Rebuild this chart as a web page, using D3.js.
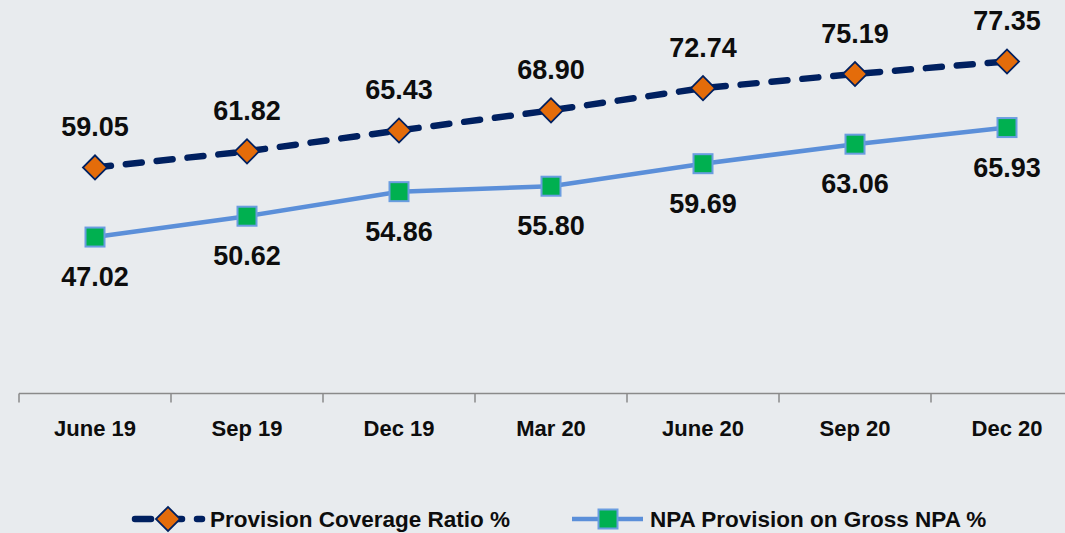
<!DOCTYPE html>
<html>
<head>
<meta charset="utf-8">
<script src="https://cdn.jsdelivr.net/npm/d3@7"></script>
<style>
  html, body { margin: 0; padding: 0; background: #e8ebee; }
  svg { display: block; }
  text { font-family: "Liberation Sans", Arial, sans-serif; font-weight: bold; fill: #0d0d0d; }
</style>
</head>
<body>
<svg id="chart" width="1065" height="533"></svg>
<script>
const categories = ["June 19", "Sep 19", "Dec 19", "Mar 20", "June 20", "Sep 20", "Dec 20"];
const pcrValues = [59.05, 61.82, 65.43, 68.90, 72.74, 75.19, 77.35];
const npaValues = [47.02, 50.62, 54.86, 55.80, 59.69, 63.06, 65.93];
const seriesNames = ["Provision Coverage Ratio %", "NPA Provision on Gross NPA %"];

const W = 1065, H = 533;
const svg = d3.select("#chart");
svg.append("rect").attr("width", W).attr("height", H).attr("fill", "#e8ebee");

const x = d3.scaleBand().domain(categories).range([19, 19 + 152 * categories.length]);
const y = d3.scaleLinear().domain([20, 90]).range([393.5, -11.8]);
const cx = d => x(d) + x.bandwidth() / 2;

// axis
const axisG = svg.append("g").attr("transform", "translate(0,393.5)");
axisG.append("line").attr("x1", 19).attr("x2", W).attr("stroke", "#8a8a8a").attr("stroke-width", 1.5);
axisG.selectAll("line.tick").data(d3.range(categories.length + 1)).join("line")
  .attr("class", "tick")
  .attr("x1", i => 19 + i * x.step()).attr("x2", i => 19 + i * x.step())
  .attr("y1", 0).attr("y2", 9).attr("stroke", "#8a8a8a").attr("stroke-width", 1.5);
axisG.selectAll("text").data(categories).join("text")
  .attr("x", d => cx(d)).attr("y", 42).attr("text-anchor", "middle")
  .style("font-size", "22px").text(d => d);

const pcr = categories.map((c, i) => ({c, v: pcrValues[i]}));
const npa = categories.map((c, i) => ({c, v: npaValues[i]}));
const line = d3.line().x(d => cx(d.c)).y(d => y(d.v));

svg.append("path").datum(npa).attr("d", line)
  .attr("fill", "none").attr("stroke", "#5b8fd9").attr("stroke-width", 4.5);
svg.append("path").datum(pcr).attr("d", line)
  .attr("fill", "none").attr("stroke", "#002060").attr("stroke-width", 6.5)
  .attr("stroke-linecap", "round").attr("stroke-dasharray", "16 15");

function drawDiamond(g, px, py) {
  g.append("path").attr("d", d3.symbol().type(d3.symbolSquare).size(290)())
    .attr("transform", `translate(${px},${py}) rotate(45)`)
    .attr("fill", "#e46c0a").attr("stroke", "#002060").attr("stroke-width", 1.8);
}
function drawSquare(g, px, py) {
  g.append("rect").attr("x", px - 9.5).attr("y", py - 9.5).attr("width", 19).attr("height", 19)
    .attr("fill", "#00b050").attr("stroke", "#6a9de0").attr("stroke-width", 2);
}

const markers = svg.append("g");
pcr.forEach(d => drawDiamond(markers, cx(d.c), y(d.v)));
npa.forEach(d => drawSquare(markers, cx(d.c), y(d.v)));

// labels
svg.append("g").selectAll("text").data(pcr).join("text")
  .attr("x", d => cx(d.c)).attr("y", d => y(d.v) - 31).attr("text-anchor", "middle")
  .style("font-size", "27px").text(d => d.v.toFixed(2));
svg.append("g").selectAll("text").data(npa).join("text")
  .attr("x", d => cx(d.c)).attr("y", d => y(d.v) + 49).attr("text-anchor", "middle")
  .style("font-size", "27px").text(d => d.v.toFixed(2));

// legend
const lg = svg.append("g");
lg.append("line").attr("x1", 135).attr("x2", 202).attr("y1", 519).attr("y2", 519)
  .attr("stroke", "#002060").attr("stroke-width", 6.5).attr("stroke-linecap", "round")
  .attr("stroke-dasharray", "16 15");
drawDiamond(lg, 168, 519);
lg.append("text").attr("x", 210).attr("y", 527).style("font-size", "22.5px").text(seriesNames[0]);

lg.append("line").attr("x1", 572).attr("x2", 643).attr("y1", 519).attr("y2", 519)
  .attr("stroke", "#5b8fd9").attr("stroke-width", 4.5);
drawSquare(lg, 608, 519);
lg.append("text").attr("x", 650).attr("y", 527).style("font-size", "22.5px").text(seriesNames[1]);
</script>
</body>
</html>
